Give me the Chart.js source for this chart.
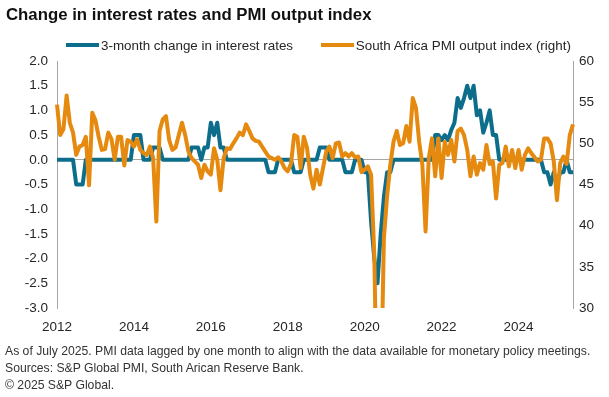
<!DOCTYPE html>
<html>
<head>
<meta charset="utf-8">
<script src="https://cdn.jsdelivr.net/npm/chart.js@4.4.1/dist/chart.umd.min.js"></script>
<style>
    html, body { margin: 0; padding: 0; background: #fff; }
    body { width: 609px; height: 397px; position: relative; overflow: hidden; font-family: "Liberation Sans", Arial, sans-serif; color: #262626; }
    #chart-wrap { position: absolute; left: 0; top: 0; width: 609px; height: 397px; }
    .title { position: absolute; left: 6px; top: 5px; font-size: 16.8px; font-weight: bold; color: #111; white-space: nowrap; }
    .legend { position: absolute; left: 66px; top: 35px; font-size: 13.4px; white-space: nowrap; color: #262626; }
    .legend span.item { display: inline-flex; align-items: center; margin-right: 24px; }
    .legend i { display: inline-block; width: 33px; height: 4px; margin-right: 2px; }
    .note { position: absolute; left: 5px; font-size: 12.2px; color: #333; white-space: nowrap; }
</style>
</head>
<body>
<div id="chart-wrap"><canvas id="chart-rates-pmi"></canvas></div>
<div class="title">Change in interest rates and PMI output index</div>
<div class="legend">
    <span class="item"><i style="background:#0d6e8c"></i>3-month change in interest rates</span>
    <span class="item"><i style="background:#e5890f"></i>South Africa PMI output index (right)</span>
</div>
<div class="note" style="top:344px">As of July 2025. PMI data lagged by one month to align with the data available for monetary policy meetings.</div>
<div class="note" style="top:361px">Sources: S&amp;P Global PMI, South Arican Reserve Bank.</div>
<div class="note" style="top:378px">&copy; 2025 S&amp;P Global.</div>

<script>
// Monthly, Jan 2012 .. Jun 2025
const FIRST_YEAR = 2012;
const N_MONTHS = 162;
const MONTHS = [];
for (let i = 0; i < N_MONTHS; i++) {
    MONTHS.push(`${FIRST_YEAR + Math.floor(i / 12)}-${String(i % 12 + 1).padStart(2, "0")}`);
}
const YEAR_TICKS = ["2012", "2014", "2016", "2018", "2020", "2022", "2024"];

// 3-month change in interest rates (% pts), left axis
const RATE_CHANGE = [
    0, 0, 0, 0, 0, 0, -0.5, -0.5, -0.5, 0, 0, 0,                 // 2012
    0, 0, 0, 0, 0, 0, 0, 0, 0, 0, 0, 0,                          // 2013
    0.5, 0.5, 0.5, 0, 0, 0, 0.25, 0.25, 0.25, 0, 0, 0,           // 2014
    0, 0, 0, 0, 0, 0, 0.25, 0.25, 0.25, 0, 0.25, 0.25,           // 2015
    0.75, 0.5, 0.75, 0.25, 0.25, 0, 0, 0, 0, 0, 0, 0,            // 2016
    0, 0, 0, 0, 0, 0, -0.25, -0.25, -0.25, 0, 0, 0,              // 2017
    0, 0, -0.25, -0.25, -0.25, 0, 0, 0, 0, 0, 0.25, 0.25,        // 2018
    0.25, 0, 0, 0, 0, 0, -0.25, -0.25, -0.25, 0, 0, 0,           // 2019
    -0.25, -0.25, -1.25, -2.0, -2.5, -1.5, -0.75, -0.25, -0.25, 0, 0, 0, // 2020
    0, 0, 0, 0, 0, 0, 0, 0, 0, 0, 0.5, 0.5,                      // 2021
    0.4, 0.5, 0.4, 0.6, 0.75, 1.25, 1.05, 1.25, 1.5, 1.25, 1.5, 0.9, // 2022
    1.0, 0.55, 0.75, 1.0, 0.5, 0.5, 0, 0, 0, 0, 0, 0,            // 2023
    0, 0, 0, 0, 0, 0, 0, 0, -0.25, -0.25, -0.5, -0.25,           // 2024
    -0.5, -0.25, -0.25, 0, -0.25, -0.25,                         // 2025
];

// South Africa PMI output index, right axis (lagged one month)
const PMI_OUTPUT = [
    54.7, 51.0, 51.7, 55.8, 52.5, 51.3, 48.6, 49.6, 49.8, 50.8, 44.9, 53.7, // 2012
    52.8, 50.8, 49.2, 49.3, 51.3, 50.5, 48.0, 50.8, 50.8, 47.3, 50.4, 50.2, // 2013
    49.6, 50.5, 49.2, 48.8, 48.6, 49.6, 48.2, 40.5, 51.5, 52.9, 53.3, 50.4, // 2014
    49.2, 49.5, 51.0, 52.5, 51.0, 49.0, 48.2, 47.8, 47.4, 45.8, 47.4, 46.6, // 2015
    46.2, 49.4, 48.0, 44.3, 48.2, 49.4, 49.3, 50.0, 50.6, 51.3, 51.0, 52.3, // 2016
    51.5, 50.6, 50.3, 50.2, 49.6, 49.0, 48.4, 48.2, 48.0, 48.3, 47.8, 47.0, // 2017
    46.6, 47.5, 51.0, 50.8, 47.0, 50.8, 49.5, 46.2, 44.5, 46.8, 45.0, 47.0, // 2018
    49.0, 49.6, 48.2, 50.0, 50.1, 48.4, 48.8, 48.4, 48.8, 48.3, 48.4, 46.5, // 2019
    46.8, 47.2, 46.2, 36.4, 15.0, 18.0, 38.5, 43.6, 47.4, 50.2, 51.5, 49.8, // 2020
    50.0, 52.1, 50.2, 55.5, 54.3, 50.2, 47.4, 39.3, 48.2, 50.6, 46.0, 50.6, // 2021
    45.8, 50.2, 48.6, 50.4, 47.8, 51.5, 51.8, 51.0, 49.2, 46.0, 48.4, 46.2, // 2022
    47.6, 46.8, 49.8, 47.5, 47.8, 43.3, 47.4, 47.6, 49.6, 47.2, 49.2, 47.0, // 2023
    49.2, 46.8, 48.6, 49.4, 48.8, 48.3, 47.8, 48.0, 50.6, 50.6, 50.0, 47.8, // 2024
    43.1, 47.6, 48.4, 47.5, 51.0, 52.3,                                     // 2025
];

const TEAL = "#0d6e8c";
const ORANGE = "#e5890f";
const AXIS_GREY = "#a6a6a6";
const TICK_FONT = { family: "'Liberation Sans', Arial, sans-serif", size: 13.5 };

new Chart(document.getElementById("chart-rates-pmi"), {
    type: "line",
    data: {
        labels: MONTHS,
        datasets: [
            {
                label: "3-month change in interest rates",
                data: RATE_CHANGE,
                yAxisID: "y",
                borderColor: TEAL,
                borderWidth: 4,
                pointRadius: 0,
                tension: 0,
                borderJoinStyle: "round",
                order: 1,
            },
            {
                label: "South Africa PMI output index (right)",
                data: PMI_OUTPUT,
                yAxisID: "y1",
                borderColor: ORANGE,
                borderWidth: 4,
                pointRadius: 0,
                tension: 0,
                borderJoinStyle: "round",
                clip: { left: 3, right: 3, top: 3, bottom: 0 },
                order: 0,
            },
        ],
    },
    options: {
        responsive: true,
        maintainAspectRatio: false,
        animation: false,
        layout: { padding: { top: 61, left: 0, right: 0, bottom: 0 } },
        plugins: { legend: { display: false }, tooltip: { enabled: false } },
        scales: {
            x: {
                type: "category",
                offset: false,
                grid: { display: false, drawTicks: false },
                border: { display: false },
                afterFit: s => { s.height = 89; },
                ticks: {
                    autoSkip: false,
                    maxRotation: 0,
                    padding: 11,
                    color: "#262626",
                    font: TICK_FONT,
                    callback: function (val) {
                        const lab = this.getLabelForValue(val);
                        const [yr, mo] = lab.split("-");
                        return mo === "01" && YEAR_TICKS.includes(yr) ? yr : null;
                    },
                },
            },
            y: {
                position: "left",
                min: -3, max: 2,
                afterFit: s => { s.width = 57; },
                grid: {
                    drawTicks: false,
                    color: ctx => ctx.tick && ctx.tick.value === 0 ? AXIS_GREY : "rgba(0,0,0,0)",
                },
                border: { display: true, color: AXIS_GREY, width: 1 },
                ticks: {
                    stepSize: 0.5,
                    padding: 9,
                    color: "#262626",
                    font: TICK_FONT,
                    callback: v => v.toFixed(1),
                },
            },
            y1: {
                position: "right",
                min: 30, max: 60,
                afterFit: s => { s.width = 36; },
                grid: { display: false, drawTicks: false },
                border: { display: true, color: AXIS_GREY, width: 1 },
                ticks: { stepSize: 5, padding: 6, color: "#262626", font: TICK_FONT },
            },
        },
    },
});
</script>
</body>
</html>
